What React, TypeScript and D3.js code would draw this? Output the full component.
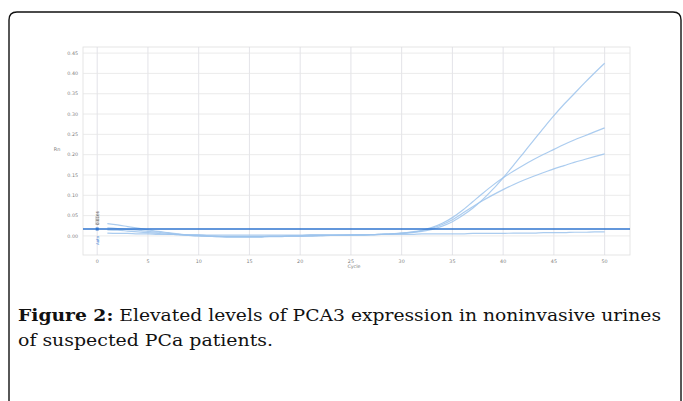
import * as d3 from "d3";

const cycles = d3.range(1, 51);

// amplification curves (delta Rn per cycle 1..50)
const curveHigh = [
  0.030, 0.027, 0.023, 0.019, 0.015, 0.011, 0.008, 0.005, 0.002, 0.000,
  -0.001, -0.002, -0.003, -0.003, -0.003, -0.003, -0.002, -0.002, -0.001, -0.001,
  0.000, 0.000, 0.001, 0.001, 0.002, 0.002, 0.003, 0.004, 0.005, 0.006,
  0.008, 0.011, 0.016, 0.024, 0.035, 0.050, 0.068, 0.090, 0.115, 0.143,
  0.173, 0.204, 0.235, 0.266, 0.296, 0.324, 0.350, 0.376, 0.401, 0.425,
];
const curveMid = [
  0.020, 0.018, 0.016, 0.014, 0.011, 0.009, 0.006, 0.004, 0.002, 0.001,
  0.000, -0.001, -0.002, -0.002, -0.002, -0.002, -0.001, -0.001, 0.000, 0.000,
  0.000, 0.001, 0.001, 0.002, 0.002, 0.003, 0.003, 0.004, 0.005, 0.007,
  0.010, 0.014, 0.021, 0.031, 0.045, 0.063, 0.084, 0.105, 0.125, 0.143,
  0.159, 0.174, 0.188, 0.201, 0.213, 0.225, 0.236, 0.246, 0.256, 0.266,
];
const curveLow = [
  0.015, 0.014, 0.012, 0.010, 0.008, 0.006, 0.004, 0.003, 0.001, 0.000,
  -0.001, -0.002, -0.002, -0.002, -0.002, -0.002, -0.001, -0.001, 0.000, 0.000,
  0.000, 0.001, 0.001, 0.001, 0.002, 0.002, 0.003, 0.004, 0.005, 0.007,
  0.009, 0.013, 0.019, 0.028, 0.040, 0.056, 0.072, 0.087, 0.101, 0.114,
  0.126, 0.137, 0.147, 0.156, 0.165, 0.173, 0.181, 0.188, 0.195, 0.202,
];
const curveFlat = [
  0.007, 0.006, 0.006, 0.005, 0.005, 0.004, 0.004, 0.003, 0.003, 0.003,
  0.002, 0.002, 0.002, 0.002, 0.002, 0.002, 0.002, 0.002, 0.002, 0.002,
  0.003, 0.003, 0.003, 0.003, 0.003, 0.003, 0.003, 0.004, 0.004, 0.004,
  0.004, 0.005, 0.005, 0.005, 0.005, 0.005, 0.006, 0.006, 0.006, 0.006,
  0.007, 0.007, 0.007, 0.008, 0.008, 0.008, 0.009, 0.009, 0.010, 0.010,
];
const curves = [curveHigh, curveMid, curveLow, curveFlat];

const threshold = 0.017;
const xTicks = [0, 5, 10, 15, 20, 25, 30, 35, 40, 45, 50];
const yTicks = [0, 0.05, 0.1, 0.15, 0.2, 0.25, 0.3, 0.35, 0.4, 0.45];

const captionBold = "Figure 2:";
const captionLine1 = " Elevated levels of PCA3 expression in noninvasive urines";
const captionLine2 = "of suspected PCa patients.";

export default function App() {
  const W = 683;
  const H = 401;
  const plot = { left: 83, right: 630, top: 47, bottom: 255 };

  const x = d3.scaleLinear().domain([-1.4, 52.5]).range([plot.left, plot.right]);
  const y = d3.scaleLinear().domain([-0.047, 0.465]).range([plot.bottom, plot.top]);

  const line = d3
    .line<number>()
    .x((_, i) => x(cycles[i]))
    .y((d) => y(d))
    .curve(d3.curveMonotoneX);

  const tickFont = { fontFamily: "DejaVu Sans", fontSize: 4.8, fill: "#808080" };

  return (
    <svg
      width={W}
      height={H}
      style={{ position: "absolute", left: 0, top: 0, background: "#fff" }}
    >
      {/* figure frame */}
      <path
        d={`M9,${H + 5} L9,20 Q9,12 17,12 L673,12 Q681,12 681,20 L681,${H + 5}`}
        fill="none"
        stroke="#111"
        strokeWidth={1.4}
      />

      {/* grid */}
      <rect
        x={plot.left}
        y={plot.top}
        width={plot.right - plot.left}
        height={plot.bottom - plot.top}
        fill="none"
        stroke="#dedede"
        strokeWidth={0.8}
      />
      {xTicks.map((t) => (
        <line key={"gx" + t} x1={x(t)} x2={x(t)} y1={plot.top} y2={plot.bottom} stroke="#dcdce2" strokeWidth={0.8} />
      ))}
      {yTicks.map((t) => (
        <line key={"gy" + t} x1={plot.left} x2={plot.right} y1={y(t)} y2={y(t)} stroke="#e6e6e6" strokeWidth={0.8} />
      ))}

      {/* tick labels */}
      {xTicks.map((t) => (
        <text key={"tx" + t} x={x(t)} y={plot.bottom + 8} textAnchor="middle" {...tickFont}>
          {t}
        </text>
      ))}
      {yTicks.map((t) => (
        <text key={"ty" + t} x={plot.left - 5} y={y(t) + 1.6} textAnchor="end" {...tickFont}>
          {t.toFixed(2)}
        </text>
      ))}
      <text x={x(25.3)} y={plot.bottom + 13} textAnchor="middle" {...tickFont}>
        Cycle
      </text>
      <text x={57} y={y(0.21)} textAnchor="middle" {...tickFont} fontSize={5}>
        Rn
      </text>

      {/* amplification curves */}
      {curves.map((c, i) => (
        <path
          key={"c" + i}
          d={line(c) ?? ""}
          fill="none"
          stroke="#9cc3ec"
          strokeOpacity={0.85}
          strokeWidth={1.2}
        />
      ))}

      {/* threshold */}
      <line
        x1={plot.left}
        x2={plot.right}
        y1={y(threshold)}
        y2={y(threshold)}
        stroke="#2f74cf"
        strokeWidth={1.5}
      />
      <g transform={`translate(${x(0)},${y(threshold)})`}>
        <rect x={-2} y={-13} width={4} height={9} fill="#d8d8d8" />
        <text transform="rotate(-90)" x={4} y={1.5} fontFamily="DejaVu Sans" fontSize={4} fill="#5a5a5a">
          0.0166
        </text>
        <rect x={-1.5} y={-1.5} width={3} height={3} fill="#2f74cf" />
        <text transform="rotate(-90)" x={-16} y={1.5} fontFamily="DejaVu Sans" fontSize={4} fill="#3b82d6">
          Auto
        </text>
      </g>

      {/* caption */}
      <text x={18} y={321} fontFamily="DejaVu Serif" fontSize={16} fill="#111" textLength={643} lengthAdjust="spacingAndGlyphs">
        <tspan fontWeight="bold">{captionBold}</tspan>
        <tspan>{captionLine1}</tspan>
      </text>
      <text x={18} y={346} fontFamily="DejaVu Serif" fontSize={16} fill="#111" textLength={255} lengthAdjust="spacingAndGlyphs">
        {captionLine2}
      </text>
    </svg>
  );
}
